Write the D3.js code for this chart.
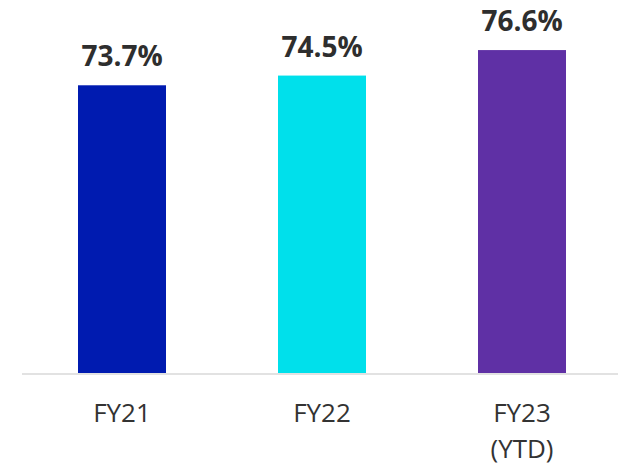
<!DOCTYPE html>
<html>
<head>
<meta charset="utf-8">
<script src="https://cdn.jsdelivr.net/npm/d3@7"></script>
<style>
  html, body { margin: 0; padding: 0; background: #fff; }
  svg { display: block; font-family: "Open Sans", "Noto Sans", sans-serif; }
</style>
</head>
<body>
<svg id="chart"></svg>
<script>
const categories = [["FY21"], ["FY22"], ["FY23", "(YTD)"]];
const values = [73.7, 74.5, 76.6];
const valueLabels = ["73.7%", "74.5%", "76.6%"];
const barColors = ["#001bb0", "#00e0eb", "#5f30a5"];

const width = 618, height = 464;
const baseY = 373;

const svg = d3.select('#chart').attr('width', width).attr('height', height);

const keys = categories.map(c => c.join(' '));

const xScale = d3.scaleBand()
    .domain(keys)
    .range([22, 622])
    .paddingInner(0.56)
    .paddingOuter(0.28);

// axis does not start at zero
const yScale = d3.scaleLinear()
    .domain([50, 80])
    .range([baseY, baseY - 30 * 12.14]);

svg.selectAll('rect.bar')
    .data(values)
    .join('rect')
    .attr('class', 'bar')
    .attr('x', (d, i) => xScale(keys[i]))
    .attr('y', d => yScale(d))
    .attr('width', xScale.bandwidth())
    .attr('height', d => baseY - yScale(d))
    .attr('fill', (d, i) => barColors[i]);

svg.append('line')
    .attr('x1', 22)
    .attr('x2', width)
    .attr('y1', baseY + 1)
    .attr('y2', baseY + 1)
    .attr('stroke', '#d9d9d9')
    .attr('stroke-width', 1.5);

svg.selectAll('text.val')
    .data(values)
    .join('text')
    .attr('class', 'val')
    .attr('x', (d, i) => xScale(keys[i]) + xScale.bandwidth() / 2)
    .attr('y', d => yScale(d) - 19)
    .attr('text-anchor', 'middle')
    .style('font-size', '28px')
    .style('font-weight', 'bold')
    .style('fill', '#2e2e2e')
    .text((d, i) => valueLabels[i]);

const catText = svg.selectAll('text.cat')
    .data(categories)
    .join('text')
    .attr('class', 'cat')
    .attr('text-anchor', 'middle')
    .style('font-size', '26px')
    .style('fill', '#333');

catText.selectAll('tspan')
    .data((d, i) => d.map(t => ({ t, i })))
    .join('tspan')
    .attr('x', d => xScale(keys[d.i]) + xScale.bandwidth() / 2)
    .attr('y', (d, j) => 422 + j * 36)
    .text(d => d.t);
</script>
</body>
</html>
